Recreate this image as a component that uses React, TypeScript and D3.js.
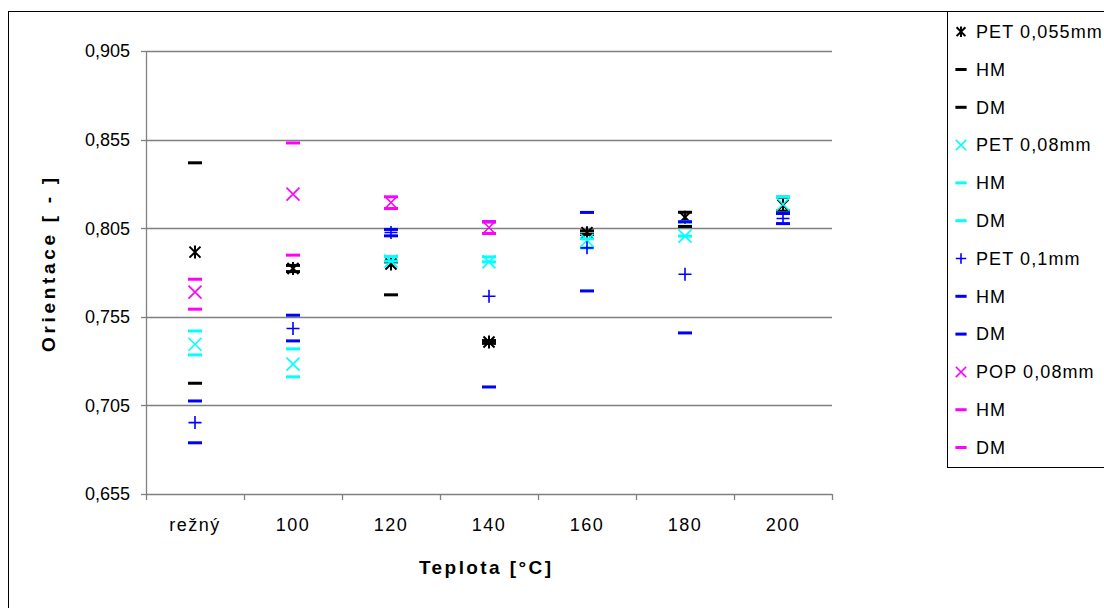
import React from "react";
import * as d3 from "d3";

const categories = ["režný", "100", "120", "140", "160", "180", "200"];
const yTicks = [0.655, 0.705, 0.755, 0.805, 0.855, 0.905];

const pet055Avg = [0.7915, 0.7823, 0.7848, 0.7408, 0.8025, 0.8112, 0.818];
const pet055HM = [0.8419, 0.784, 0.786, 0.7416, 0.8035, 0.814, 0.8225];
const pet055DM = [0.7175, 0.7805, 0.7674, 0.74, 0.8015, 0.806, 0.8146];

const pet08Avg = [0.7395, 0.7283, 0.7864, 0.786, 0.7982, 0.8005, 0.8185];
const pet08HM = [0.747, 0.7369, 0.789, 0.7888, 0.799, 0.8086, 0.8227];
const pet08DM = [0.7335, 0.7211, 0.7864, 0.786, 0.7939, 0.8005, 0.8135];

const pet1Avg = [0.6953, 0.7484, 0.8026, 0.7666, 0.7939, 0.779, 0.8105];
const pet1HM = [0.7075, 0.7559, 0.8043, 0.8086, 0.8139, 0.8086, 0.8133];
const pet1DM = [0.6839, 0.7414, 0.8007, 0.7154, 0.7696, 0.7459, 0.8076];

const popAvg = [0.7689, 0.8242, 0.8195, 0.8054, null, null, null];
const popHM = [0.7762, 0.8531, 0.8227, 0.8086, null, null, null];
const popDM = [0.7593, 0.7898, 0.8161, 0.802, null, null, null];

type Shape = "star" | "x" | "plus" | "dash";
const seriesList: { name: string; color: string; shape: Shape; values: (number | null)[] }[] = [
  { name: "PET 0,055mm", color: "#000000", shape: "star", values: pet055Avg },
  { name: "HM", color: "#000000", shape: "dash", values: pet055HM },
  { name: "DM", color: "#000000", shape: "dash", values: pet055DM },
  { name: "PET 0,08mm", color: "#00FFFF", shape: "x", values: pet08Avg },
  { name: "HM", color: "#00FFFF", shape: "dash", values: pet08HM },
  { name: "DM", color: "#00FFFF", shape: "dash", values: pet08DM },
  { name: "PET 0,1mm", color: "#0000FF", shape: "plus", values: pet1Avg },
  { name: "HM", color: "#0000FF", shape: "dash", values: pet1HM },
  { name: "DM", color: "#0000FF", shape: "dash", values: pet1DM },
  { name: "POP 0,08mm", color: "#FF00FF", shape: "x", values: popAvg },
  { name: "HM", color: "#FF00FF", shape: "dash", values: popHM },
  { name: "DM", color: "#FF00FF", shape: "dash", values: popDM },
];

function Marker({ shape, color, x, y, s = 1 }: { shape: Shape; color: string; x: number; y: number; s?: number }) {
  const h = 6.5 * s;
  if (shape === "dash") {
    return <rect x={x - 7 * s} y={y - 1.5} width={14 * s} height={3} fill={color} />;
  }
  if (shape === "x") {
    return (
      <path d={`M${x - h},${y - h}L${x + h},${y + h}M${x - h},${y + h}L${x + h},${y - h}`} stroke={color} strokeWidth={1.6} fill="none" />
    );
  }
  if (shape === "plus") {
    return (
      <path d={`M${x - h},${y}L${x + h},${y}M${x},${y - h}L${x},${y + h}`} stroke={color} strokeWidth={1.6} fill="none" />
    );
  }
  const k = h * 0.85;
  return (
    <path
      d={`M${x - k},${y - k}L${x + k},${y + k}M${x - k},${y + k}L${x + k},${y - k}M${x},${y - h}L${x},${y + h}`}
      stroke={color}
      strokeWidth={2}
      fill="none"
    />
  );
}

export default function App() {
  const left = 146, right = 832, top = 51, bottom = 494;
  const x = d3.scaleBand<string>().domain(categories).range([left, right]).padding(0);
  const y = d3.scaleLinear().domain([0.655, 0.905]).range([bottom, top]);
  const font = "'Liberation Sans', Arial, sans-serif";
  const fmt = (v: number) => d3.format(".3f")(v).replace(".", ",");
  const boundaries = categories.map((c) => x(c)!).concat([right]);

  return (
    <svg width={1104} height={608} style={{ position: "absolute", left: 0, top: 0, background: "#fff" }} fontFamily={font}>
      <rect x={0} y={0} width={1104} height={608} fill="#fff" />
      <rect x={8.5} y={11.5} width={1200} height={700} fill="none" stroke="#000" strokeWidth={1} />
      {yTicks.map((t) => (
        <g key={t}>
          <line x1={left} x2={right} y1={Math.round(y(t)) + 0.5} y2={Math.round(y(t)) + 0.5} stroke="#808080" strokeWidth={1.3} />
          <line x1={141} x2={left} y1={Math.round(y(t)) + 0.5} y2={Math.round(y(t)) + 0.5} stroke="#808080" strokeWidth={1.3} />
          <text x={130} y={y(t)} dy="0.35em" textAnchor="end" fontSize={18}>
            {fmt(t)}
          </text>
        </g>
      ))}
      <line x1={left + 0.5} x2={left + 0.5} y1={top} y2={bottom} stroke="#808080" strokeWidth={1.3} />
      {boundaries.map((b, i) => (
        <line key={i} x1={Math.round(b) + 0.5} x2={Math.round(b) + 0.5} y1={bottom} y2={bottom + 6} stroke="#808080" strokeWidth={1.3} />
      ))}
      {categories.map((c) => (
        <text key={c} x={x(c)! + x.bandwidth() / 2} y={525} dy="0.35em" textAnchor="middle" fontSize={18} letterSpacing={1.5}>
          {c}
        </text>
      ))}
      <text x={485} y={567} dy="0.35em" textAnchor="middle" fontSize={19} fontWeight="bold" textLength={132} lengthAdjust="spacing">
        Teplota [°C]
      </text>
      <text
        transform={`translate(48,265) rotate(-90)`}
        dy="0.35em"
        textAnchor="middle"
        fontSize={19}
        fontWeight="bold"
        textLength={174}
        lengthAdjust="spacing"
      >
        Orientace  [ - ]
      </text>
      {seriesList.map((s, si) => (
        <g key={si}>
          {s.values.map((v, i) =>
            v == null ? null : (
              <Marker key={i} shape={s.shape} color={s.color} x={x(categories[i])! + x.bandwidth() / 2} y={y(v)} />
            )
          )}
        </g>
      ))}
      <rect x={947.5} y={11.5} width={200} height={456} fill="#fff" stroke="#000" strokeWidth={1} />
      {seriesList.map((s, i) => {
        const ly = 31.7 + i * 37.8;
        return (
          <g key={"l" + i}>
            <Marker shape={s.shape} color={s.color} x={961} y={ly} s={0.8} />
            <text x={976} y={ly} dy="0.35em" fontSize={18} letterSpacing={1.1}>
              {s.name}
            </text>
          </g>
        );
      })}
    </svg>
  );
}
